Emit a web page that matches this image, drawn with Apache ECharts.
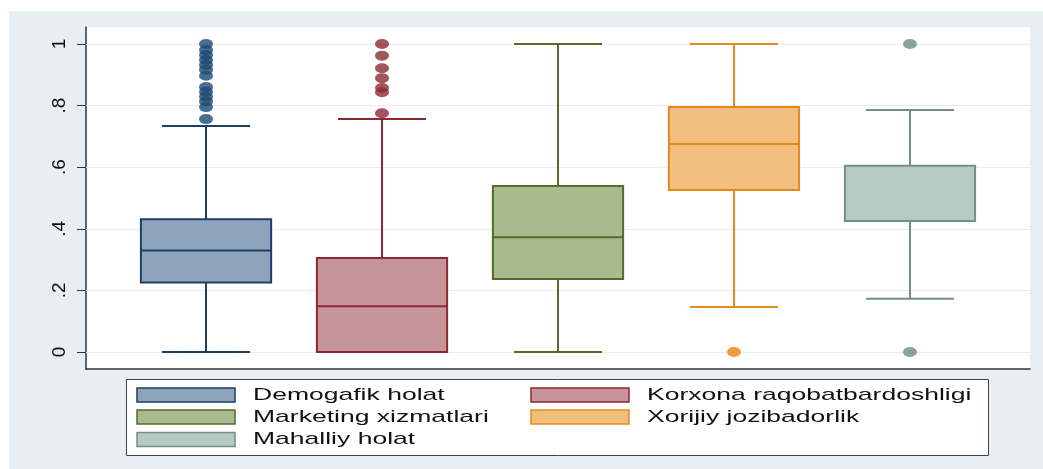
<!DOCTYPE html>
<html>
<head>
<meta charset="UTF-8">
<title>Boxplot</title>
<style>
  html, body { margin: 0; padding: 0; background: #fff; }
  #chart { width: 1043px; height: 469px; }
</style>
</head>
<body>
<div id="chart"></div>
<script src="https://cdn.jsdelivr.net/npm/echarts@6/dist/echarts.min.js"></script>
<script>
// data
var categories = ['Demogafik holat', 'Korxona raqobatbardoshligi', 'Marketing xizmatlari', 'Xorijiy jozibadorlik', 'Mahalliy holat'];
var lowerWhisker = [0, 0, 0, 0.146, 0.173];
var q1 = [0.226, 0, 0.237, 0.526, 0.425];
var median = [0.330, 0.149, 0.373, 0.675, 0.425];
var q3 = [0.431, 0.305, 0.539, 0.795, 0.605];
var upperWhisker = [0.734, 0.756, 1, 1, 0.786];
var outliers = [
  [0.756, 0.795, 0.813, 0.829, 0.845, 0.86, 0.897, 0.916, 0.932, 0.948, 0.964, 0.98, 1],
  [0.775, 0.843, 0.857, 0.889, 0.921, 0.962, 1],
  [],
  [0],
  [0, 1]
];
var yTicks = [0, 0.2, 0.4, 0.6, 0.8, 1];
var yTickLabels = ['0', '.2', '.4', '.6', '.8', '1'];

var fills = ['#8ea4bd', '#c8949b', '#a9ba8f', '#f2bf7e', '#b6c9c3'];
var edges = ['#1c3f63', '#8c2a34', '#566b2c', '#e38a1c', '#748e88'];
var dotColors = ['#1b4876', '#8b2a35', '#566b2c', '#e8850f', '#6c8c85'];

var chart = echarts.init(document.getElementById('chart'));

function makeRender(i) {
  return function (params, api) {
    var x = api.value(0);
    var lo = api.coord([x, api.value(1)]);
    var b1 = api.coord([x, api.value(2)]);
    var md = api.coord([x, api.value(3)]);
    var b3 = api.coord([x, api.value(4)]);
    var hi = api.coord([x, api.value(5)]);
    var half = api.size([0.37, 0])[0];
    var cap = api.size([0.25, 0])[0];
    var ls = { stroke: edges[i], lineWidth: 2 };
    var cx = lo[0];
    return {
      type: 'group',
      children: [
        { type: 'line', shape: { x1: cx, y1: b3[1], x2: cx, y2: hi[1] }, style: ls },
        { type: 'line', shape: { x1: cx, y1: b1[1], x2: cx, y2: lo[1] }, style: ls },
        { type: 'line', shape: { x1: cx - cap, y1: hi[1], x2: cx + cap, y2: hi[1] }, style: ls },
        { type: 'line', shape: { x1: cx - cap, y1: lo[1], x2: cx + cap, y2: lo[1] }, style: ls },
        { type: 'rect', shape: { x: cx - half, y: b3[1], width: half * 2, height: b1[1] - b3[1] },
          style: { fill: fills[i], stroke: edges[i], lineWidth: 2 } },
        { type: 'line', shape: { x1: cx - half, y1: md[1], x2: cx + half, y2: md[1] }, style: ls }
      ]
    };
  };
}

var series = [{
  type: 'line',
  data: [],
  silent: true,
  z: 1,
  markLine: {
    silent: true,
    z: 1,
    symbol: 'none',
    label: { show: false },
    lineStyle: { color: '#e8ecee', width: 1, type: 'solid' },
    data: yTicks.map(function (v) { return { yAxis: v }; })
  }
}];

categories.forEach(function (name, i) {
  series.push({
    name: name,
    type: 'custom',
    z: 3,
    renderItem: makeRender(i),
    encode: { x: 0, y: [1, 2, 3, 4, 5] },
    data: [[i + 1, lowerWhisker[i], q1[i], median[i], q3[i], upperWhisker[i]]]
  });
  series.push({
    name: name + ' outliers',
    type: 'scatter',
    z: 4,
    symbol: 'circle',
    symbolSize: [14, 10],
    itemStyle: { color: dotColors[i] },
    data: outliers[i].map(function (v) { return [i + 1, v]; })
  });
});

// legend block
var legendCols = [137, 531];
var textCols = [253, 647];
var legendRows = [395, 417, 439.5];
var legendItems = [{
  type: 'rect', left: 126, top: 379,
  shape: { width: 862, height: 76 },
  style: { fill: '#fff', stroke: '#444', lineWidth: 1 }
}];
categories.forEach(function (name, i) {
  var c = i % 2, r = Math.floor(i / 2);
  legendItems.push({
    type: 'rect', x: legendCols[c], y: legendRows[r] - 7,
    shape: { width: 98, height: 14 },
    style: { fill: fills[i], stroke: edges[i], lineWidth: 1.5 }
  });
  legendItems.push({
    type: 'text', x: textCols[c], y: legendRows[r], scaleX: 1.56,
    style: { text: name, font: '17px "Liberation Sans", Arial, sans-serif', fill: '#111', verticalAlign: 'middle' }
  });
});

var option = {
  animation: false,
  backgroundColor: '#fff',
  graphic: [{
    type: 'rect', left: 9, top: 11, z: -10,
    shape: { width: 1034, height: 458 },
    style: { fill: '#e8eff2' }
  }, {
    type: 'group', children: legendItems
  }],
  grid: {
    left: 86, right: 13, top: 27, bottom: 100,
    show: true, backgroundColor: '#fff', borderWidth: 0
  },
  xAxis: {
    type: 'value', min: 0.318, max: 5.682,
    axisLine: { show: true, onZero: false, lineStyle: { color: '#333', width: 1.5 } },
    axisTick: { show: false },
    axisLabel: { show: false },
    splitLine: { show: false }
  },
  yAxis: {
    type: 'value', min: -0.055, max: 1.055,
    axisLine: { show: true, onZero: false, lineStyle: { color: '#333', width: 1.5 } },
    axisTick: { show: true, length: 9, customValues: yTicks, lineStyle: { color: '#333', width: 1 } },
    axisLabel: {
      customValues: yTicks, rotate: 90, margin: 17, fontSize: 19, color: '#111',
      fontFamily: '"Liberation Sans", Arial, sans-serif',
      formatter: function (v) {
        for (var k = 0; k < yTicks.length; k++) {
          if (Math.abs(yTicks[k] - v) < 1e-6) return yTickLabels[k];
        }
        return '';
      }
    },
    splitLine: { show: false }
  },
  series: series
};

chart.setOption(option);
</script>
</body>
</html>
